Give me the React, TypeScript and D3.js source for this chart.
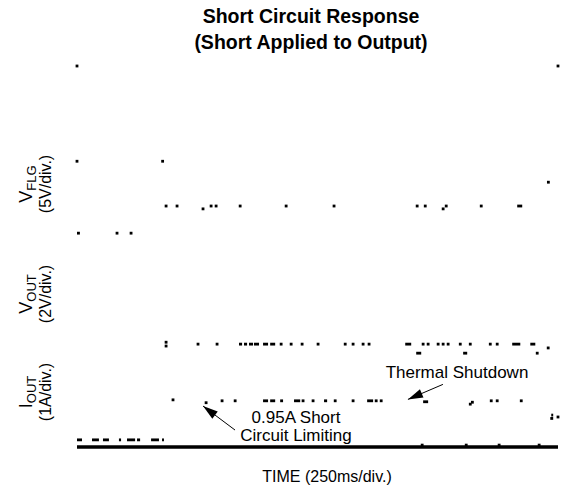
import * as React from 'react'
import * as d3 from 'd3'

// scope settings: 10 div x 250ms, 8 vertical divisions
const timeDomain = [0, 2500]
const divDomain = [0, 8]

// [start ms, end ms, level in div]
type Mark = [number, number, number]

const flagTrace: Mark[] = [
	[0, 0, 8.0], [2500, 2500, 8.0],
	[0, 0, 6.0], [445, 445, 6.0],
	[2450, 2450, 5.56],
	[463, 463, 5.06], [520, 520, 5.06], [655, 655, 5.0], [697, 697, 5.06], [723, 723, 5.06],
	[848, 848, 5.06], [1087, 1087, 5.06], [1336, 1336, 5.06], [1768, 1768, 5.06], [1810, 1810, 5.06],
	[1903, 1903, 5.0], [1919, 1919, 5.06], [2101, 2101, 5.06], [2288, 2314, 5.06],
	[0, 15, 4.49], [208, 208, 4.49], [281, 281, 4.49],
]

const voutTrace: Mark[] = [
	[463, 463, 2.2], [463, 463, 2.12],
	[629, 629, 2.16], [728, 728, 2.16], [842, 858, 2.16], [868, 884, 2.16], [894, 915, 2.16],
	[920, 946, 2.16], [967, 993, 2.16], [1004, 1030, 2.16], [1061, 1061, 2.16], [1113, 1113, 2.16],
	[1170, 1170, 2.16], [1253, 1253, 2.16], [1394, 1394, 2.16], [1435, 1435, 2.16], [1487, 1487, 2.16],
	[1518, 1518, 2.16], [1706, 1737, 2.16], [1799, 1799, 2.16], [1825, 1825, 2.16], [1877, 1877, 2.16],
	[1903, 1903, 2.16], [1929, 1929, 2.16], [1992, 1992, 2.16], [2044, 2044, 2.16], [2148, 2148, 2.16],
	[2184, 2184, 2.16], [2262, 2304, 2.16], [2356, 2382, 2.16],
	[1763, 1789, 1.97], [2007, 2028, 1.97], [2392, 2392, 1.97], [2449, 2449, 2.08],
]

const ioutTrace: Mark[] = [
	[499, 499, 0.99], [671, 671, 0.93], [754, 754, 0.97], [822, 822, 0.97], [967, 993, 0.97],
	[1004, 1030, 0.97], [1056, 1071, 0.97], [1128, 1160, 0.97], [1175, 1175, 0.97], [1227, 1227, 0.97],
	[1284, 1300, 0.97], [1342, 1342, 0.97], [1435, 1435, 0.97], [1508, 1539, 0.97], [1555, 1555, 0.97],
	[1581, 1581, 0.97], [2153, 2153, 0.97], [2184, 2184, 0.97], [2309, 2309, 0.97],
	[1799, 1825, 0.95], [2044, 2044, 0.9], [2055, 2055, 0.94],
	[0, 26, 0.15], [78, 114, 0.15], [135, 166, 0.15], [218, 229, 0.15], [260, 302, 0.15],
	[312, 328, 0.15], [385, 426, 0.15], [442, 452, 0.15],
	[2460, 2475, 0.6], [2465, 2475, 0.67], [2500, 2500, 0.63],
	[1794, 1794, 0.04], [2023, 2023, 0.04], [2194, 2194, 0.04], [2402, 2402, 0.04],
]

const titleLines = ['Short Circuit Response', '(Short Applied to Output)']
const channelLabels = [
	{ main: 'V', sub: 'FLG', scale: '(5V/div.)', center: 184 },
	{ main: 'V', sub: 'OUT', scale: '(2V/div.)', center: 294 },
	{ main: 'I', sub: 'OUT', scale: '(1A/div.)', center: 392 },
]
const timeLabel = 'TIME (250ms/div.)'

const font = 'Liberation Sans, Arial, Helvetica, sans-serif'

function arrowHead(tip: [number, number], tail: [number, number]) {
	const dx = tail[0] - tip[0], dy = tail[1] - tip[1]
	const len = Math.sqrt(dx * dx + dy * dy)
	const ux = dx / len, uy = dy / len
	const hl = 15, hw = 4.5
	const bx = tip[0] + ux * hl, by = tip[1] + uy * hl
	return `M${tip[0]},${tip[1]}L${bx - uy * hw},${by + ux * hw}L${bx + uy * hw},${by - ux * hw}Z`
}

const App: React.FC = () => {
	const width = 563, height = 491
	const x = d3.scaleLinear().domain(timeDomain).range([77, 558])
	const y = d3.scaleLinear().domain(divDomain).range([447, 66])
	const dot = 2.8

	const drawMarks = (data: Mark[], key: string) =>
		data.map((d, i) => {
			const single = d[1] <= d[0]
			const x0 = single ? x(d[0]) - dot / 2 : x(d[0])
			const w = single ? dot : x(d[1]) - x(d[0])
			return <rect key={key + i} x={x0} y={y(d[2]) - dot / 2} width={w} height={dot} fill="#000" />
		})

	const thermalTip: [number, number] = [x(1720), y(1.0)]
	const thermalTail: [number, number] = [thermalTip[0] + 35, thermalTip[1] - 15]
	const limitTip: [number, number] = [x(655), y(0.86)]
	const limitTail: [number, number] = [limitTip[0] + 32, limitTip[1] + 24]

	return (
		<svg width={width} height={height} style={{ position: 'absolute', left: 0, top: 0, background: '#fff' }}
			fontFamily={font}>
			{titleLines.map((t, i) => (
				<text key={t} x={311} y={23 + i * 26} textAnchor="middle" fontSize={19.5} fontWeight="bold">{t}</text>
			))}

			{channelLabels.map(c => (
				<g key={c.scale}>
					<text transform={`translate(32,${c.center}) rotate(-90)`} textAnchor="middle" fontSize={18}>
						{c.main}<tspan fontSize={13} dy={4}>{c.sub}</tspan>
					</text>
					<text transform={`translate(51,${c.center}) rotate(-90)`} textAnchor="middle" fontSize={16}>{c.scale}</text>
				</g>
			))}

			<line x1={x(0)} x2={x(2500)} y1={y(0)} y2={y(0)} stroke="#000" strokeWidth={3.3} />

			{drawMarks(flagTrace, 'f')}
			{drawMarks(voutTrace, 'v')}
			{drawMarks(ioutTrace, 'i')}

			<line x1={thermalTip[0]} y1={thermalTip[1]} x2={thermalTail[0]} y2={thermalTail[1]} stroke="#000" strokeWidth={1} />
			<path d={arrowHead(thermalTip, thermalTail)} fill="#000" />
			<text x={457} y={378} textAnchor="middle" fontSize={17}>Thermal Shutdown</text>

			<line x1={limitTip[0]} y1={limitTip[1]} x2={limitTail[0]} y2={limitTail[1]} stroke="#000" strokeWidth={1} />
			<path d={arrowHead(limitTip, limitTail)} fill="#000" />
			<text x={296} y={423} textAnchor="middle" fontSize={17}>0.95A Short</text>
			<text x={296} y={441} textAnchor="middle" fontSize={17}>Circuit Limiting</text>

			<text x={327} y={482} textAnchor="middle" fontSize={16}>{timeLabel}</text>
		</svg>
	)
}

export default App
